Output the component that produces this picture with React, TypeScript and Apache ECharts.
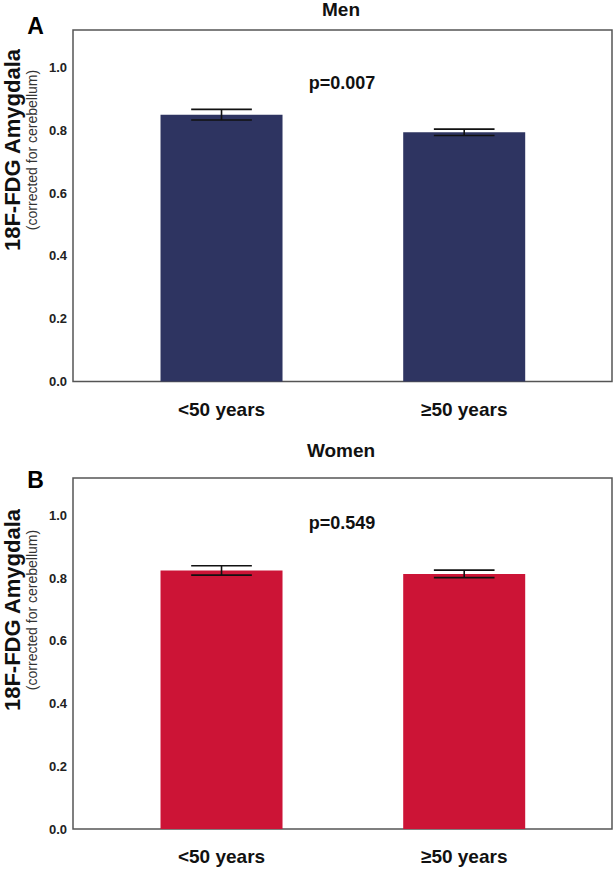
import React, { useEffect, useRef } from "react";
import * as echarts from "echarts";

const categories = ["<50 years", "≥50 years"];
const menMeans = [0.85, 0.794];
const menErrors = [0.017, 0.01];
const womenMeans = [0.825, 0.814];
const womenErrors = [0.015, 0.012];
const yTicks = [0, 0.2, 0.4, 0.6, 0.8, 1.0];
const panelTitles = ["Men", "Women"];
const panelLetters = ["A", "B"];
const pValues = ["p=0.007", "p=0.549"];
const yTitle = "18F-FDG Amygdala";
const ySubtitle = "(corrected for cerebellum)";

const FONT = "'Liberation Sans', Arial, Helvetica, sans-serif";
const NAVY = "#2E3461";
const RED = "#CC1436";

export default function App() {
  const ref = useRef<HTMLDivElement>(null);

  useEffect(() => {
    if (!ref.current) return;
    const chart = echarts.init(ref.current, undefined, { renderer: "svg" });

    const grids = [
      { left: 73, top: 30, width: 539, height: 351.5 },
      { left: 73, top: 478, width: 539, height: 351 },
    ];

    const xAxes = grids.map((_, i) => ({
      type: "value",
      gridIndex: i,
      min: -0.612,
      max: 1.609,
      axisLine: { show: false },
      axisTick: { show: false },
      splitLine: { show: false },
      axisLabel: {
        customValues: [0, 1],
        formatter: (v: number) => categories[Math.round(v)] ?? "",
        fontFamily: FONT,
        fontWeight: "bold",
        fontSize: 19,
        color: "#111",
        margin: 18,
      },
    }));

    const yAxes = grids.map((_, i) => ({
      type: "value",
      gridIndex: i,
      min: 0,
      max: 1.12,
      interval: 0.2,
      axisLine: { show: false },
      axisTick: { show: false },
      splitLine: { show: false },
      axisLabel: {
        customValues: yTicks,
        formatter: (v: number) => v.toFixed(1),
        fontFamily: FONT,
        fontWeight: "bold",
        fontSize: 13,
        color: "#222",
        margin: 6,
      },
    }));

    const barSeries = (idx: number, means: number[], color: string) => ({
      type: "bar",
      xAxisIndex: idx,
      yAxisIndex: idx,
      barWidth: 122,
      data: means.map((m, i) => [i, m]),
      itemStyle: { color },
      silent: true,
    });

    const errSeries = (idx: number, means: number[], errs: number[]) => ({
      type: "custom",
      xAxisIndex: idx,
      yAxisIndex: idx,
      data: means.map((m, i) => [i, m, errs[i]]),
      z: 10,
      silent: true,
      renderItem: (_params: any, api: any) => {
        const x = api.value(0);
        const y = api.value(1);
        const e = api.value(2);
        const top = api.coord([x, y + e]);
        const bot = api.coord([x, y - e]);
        const left = api.coord([x - 0.125, y])[0];
        const right = api.coord([x + 0.125, y])[0];
        const style = { stroke: "#111", lineWidth: 1.6 };
        return {
          type: "group",
          children: [
            { type: "line", shape: { x1: top[0], y1: top[1], x2: bot[0], y2: bot[1] }, style },
            { type: "line", shape: { x1: left, y1: top[1], x2: right, y2: top[1] }, style },
            { type: "line", shape: { x1: left, y1: bot[1], x2: right, y2: bot[1] }, style },
          ],
        };
      },
    });

    const titleCenters = [
      { title: 9, p: 83, letter: 26, ytitle: 150 },
      { title: 450, p: 523, letter: 480, ytitle: 610 },
    ];

    const graphics: any[] = [];
    titleCenters.forEach((c, i) => {
      graphics.push({
        type: "text",
        x: 341,
        y: c.title,
        style: {
          text: panelTitles[i],
          font: `bold 19px ${FONT}`,
          fill: "#111",
          align: "center",
          verticalAlign: "middle",
        },
      });
      graphics.push({
        type: "text",
        x: 342,
        y: c.p,
        style: {
          text: pValues[i],
          font: `bold 18px ${FONT}`,
          fill: "#111",
          align: "center",
          verticalAlign: "middle",
        },
      });
      graphics.push({
        type: "text",
        x: 35.5,
        y: c.letter,
        style: {
          text: panelLetters[i],
          font: `bold 23px ${FONT}`,
          fill: "#000",
          align: "center",
          verticalAlign: "middle",
        },
      });
      graphics.push({
        type: "text",
        x: 12,
        y: c.ytitle,
        rotation: Math.PI / 2,
        style: {
          text: yTitle,
          font: `bold 22px ${FONT}`,
          fill: "#111",
          align: "center",
          verticalAlign: "middle",
        },
      });
      graphics.push({
        type: "text",
        x: 32,
        y: c.ytitle,
        rotation: Math.PI / 2,
        style: {
          text: ySubtitle,
          font: `14px ${FONT}`,
          fill: "#333",
          align: "center",
          verticalAlign: "middle",
        },
      });
    });

    chart.setOption({
      animation: false,
      backgroundColor: "#fff",
      grid: grids.map((g) => ({
        ...g,
        show: true,
        borderColor: "#555",
        borderWidth: 1.5,
        backgroundColor: "transparent",
      })),
      xAxis: xAxes,
      yAxis: yAxes,
      series: [
        barSeries(0, menMeans, NAVY),
        errSeries(0, menMeans, menErrors),
        barSeries(1, womenMeans, RED),
        errSeries(1, womenMeans, womenErrors),
      ],
      graphic: graphics,
    });

    return () => chart.dispose();
  }, []);

  return (
    <div
      ref={ref}
      style={{ position: "absolute", left: 0, top: 0, width: 613, height: 872 }}
    />
  );
}
